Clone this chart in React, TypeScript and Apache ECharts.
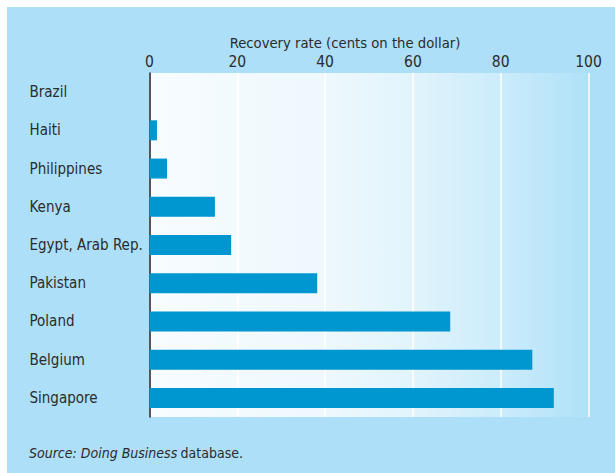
import React, { useEffect, useRef } from "react";
import * as echarts from "echarts";

const categories = [
  "Brazil",
  "Haiti",
  "Philippines",
  "Kenya",
  "Egypt, Arab Rep.",
  "Pakistan",
  "Poland",
  "Belgium",
  "Singapore",
];
const recoveryRate = [0, 1.7, 4.0, 14.9, 18.6, 38.2, 68.5, 87.2, 92.1];
const xTicks = [0, 20, 40, 60, 80, 100];
const axisTitle = "Recovery rate (cents on the dollar)";

const FONT = "'DejaVu Sans Condensed', 'Noto Sans', sans-serif";

export default function App() {
  const ref = useRef<HTMLDivElement>(null);
  useEffect(() => {
    document.body.style.margin = "0";
    if (!ref.current) return;
    const chart = echarts.init(ref.current, undefined, { renderer: "svg" });
    chart.setOption({
      animation: false,
      backgroundColor: "#ffffff",
      textStyle: { fontFamily: FONT },
      graphic: [
        {
          type: "rect",
          z: -10,
          silent: true,
          shape: { x: 7, y: 7, width: 608, height: 466 },
          style: { fill: "#addff8" },
        },
        {
          type: "text",
          x: 345,
          y: 42,
          style: {
            text: axisTitle,
            fontFamily: FONT,
            fontSize: 14.7,
            fill: "#2b2b2b",
            textAlign: "center",
            textVerticalAlign: "middle",
          },
        },
        {
          type: "text",
          x: 29,
          y: 453,
          style: {
            text: "{i|Source: Doing Business} {n|database.}",
            rich: {
              i: { fontFamily: FONT, fontSize: 14, fontStyle: "italic", fill: "#2b2b2b" },
              n: { fontFamily: FONT, fontSize: 14, fill: "#2b2b2b" },
            },
            textVerticalAlign: "middle",
          },
        },
      ],
      grid: {
        left: 149.5,
        top: 73,
        width: 439,
        height: 344,
        show: true,
        borderWidth: 0,
        backgroundColor: new echarts.graphic.LinearGradient(0, 0, 1, 0, [
          { offset: 0, color: "#f7fcff" },
          { offset: 0.4, color: "#eef8fd" },
          { offset: 0.6, color: "#e1f4fc" },
          { offset: 0.8, color: "#cbecfb" },
          { offset: 1, color: "#b0e1f8" },
        ]),
      },
      xAxis: {
        type: "value",
        position: "top",
        min: 0,
        max: 100,
        interval: 20,
        axisLine: { show: false },
        axisTick: { show: false },
        axisLabel: {
          margin: 3,
          fontSize: 15.5,
          color: "#2b2b2b",
          fontFamily: FONT,
          customValues: xTicks,
        },
        splitLine: { show: true, lineStyle: { color: "#ffffff", width: 1.5 } },
      },
      yAxis: {
        type: "category",
        inverse: true,
        data: categories,
        axisLine: { show: true, lineStyle: { color: "#1e1e1e", width: 1.5 } },
        axisTick: { show: false },
        axisLabel: {
          align: "left",
          margin: 120,
          fontSize: 15,
          color: "#2b2b2b",
          fontFamily: FONT,
        },
      },
      series: [
        {
          type: "bar",
          data: recoveryRate,
          barWidth: 20,
          itemStyle: { color: "#0096cf" },
        },
      ],
    });
    return () => chart.dispose();
  }, []);
  return <div ref={ref} style={{ width: 615, height: 473 }} />;
}
